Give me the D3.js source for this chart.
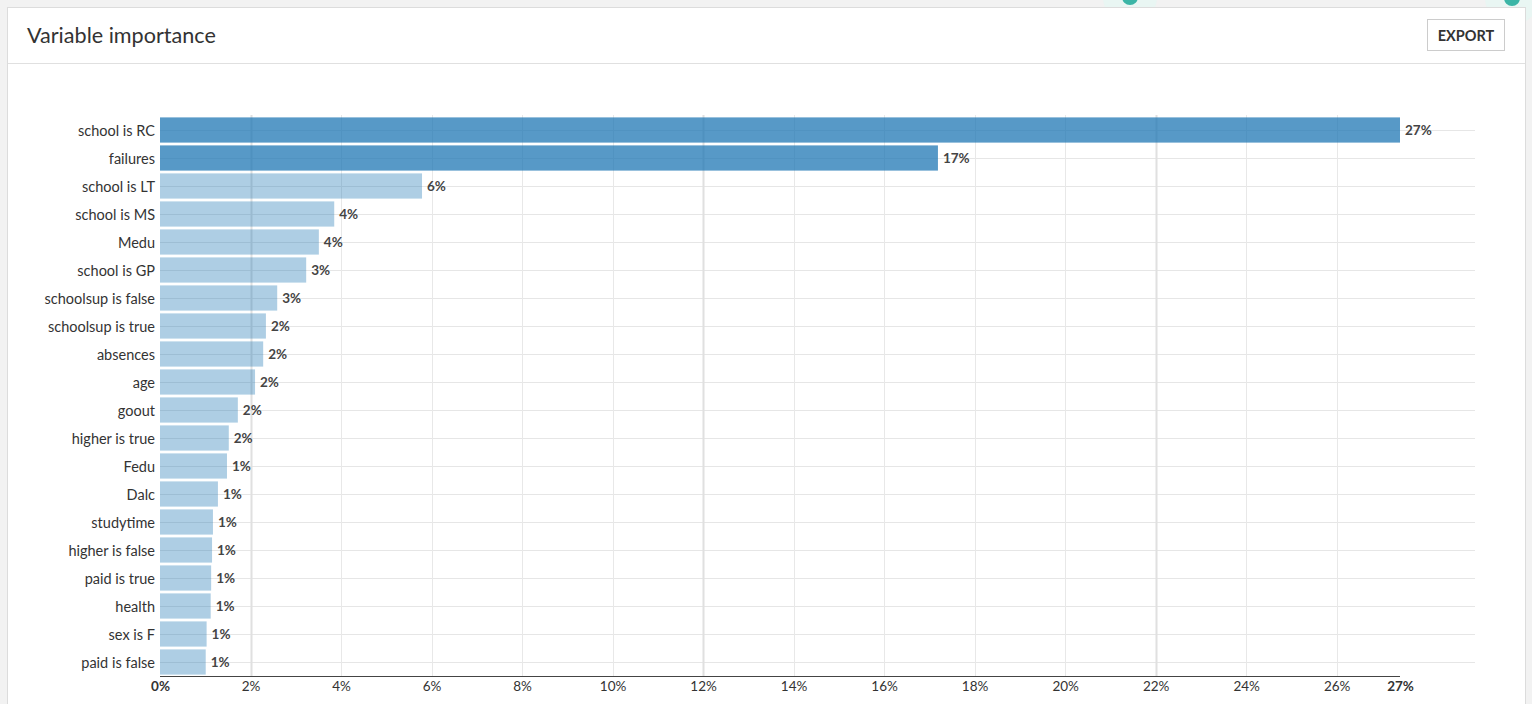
<!DOCTYPE html>
<html>
<head>
<meta charset="utf-8">
<script src="https://cdn.jsdelivr.net/npm/d3@7"></script>
<style>
  html, body { margin: 0; padding: 0; background: #f2f2f2; }
  svg { display: block; font-family: Lato, "Open Sans", sans-serif; }
</style>
</head>
<body>
<svg id="chart"></svg>
<script>
'use strict';
// Data (importance, as fractions)
var features = ['school is RC', 'failures', 'school is LT', 'school is MS', 'Medu',
  'school is GP', 'schoolsup is false', 'schoolsup is true', 'absences', 'age',
  'goout', 'higher is true', 'Fedu', 'Dalc', 'studytime', 'higher is false',
  'paid is true', 'health', 'sex is F', 'paid is false'];
var importance = [0.2740, 0.1719, 0.0579, 0.0385, 0.0351, 0.0323, 0.0259, 0.0234,
  0.0228, 0.0210, 0.0172, 0.0152, 0.0148, 0.0128, 0.0117, 0.0115, 0.0113, 0.0112,
  0.0103, 0.0101];
var xTicks = [0, 0.02, 0.04, 0.06, 0.08, 0.10, 0.12, 0.14, 0.16, 0.18, 0.20, 0.22, 0.24, 0.26];
var strongTicks = [0.02, 0.12, 0.22];
var title = 'Variable importance';

var data = features.map(function(f, i) { return { name: f, value: importance[i] }; });

var canvasWidth = 1532;
var canvasHeight = 704;
var margin = { top: 116, right: 132, bottom: 28, left: 160 };

var svg = d3.select('#chart')
  .attr('width', canvasWidth)
  .attr('height', canvasHeight);

// Decorative UI dots peeking above the card
[[1130, -3], [1512, -2]].forEach(function(p) {
  svg.append('circle').attr('cx', p[0]).attr('cy', p[1]).attr('r', 27).attr('fill', '#e6f6f3').attr('opacity', 0.8);
  svg.append('circle').attr('cx', p[0]).attr('cy', p[1]).attr('r', 8).attr('fill', '#3bb5a6');
});

// Card
svg.append('rect')
  .attr('x', 7.5).attr('y', 7.5)
  .attr('width', 1518).attr('height', 720)
  .attr('fill', '#fff')
  .attr('stroke', '#dcdcdc');
svg.append('line')
  .attr('x1', 8).attr('x2', 1525)
  .attr('y1', 63.5).attr('y2', 63.5)
  .attr('stroke', '#e0e0e0');
svg.append('text')
  .attr('x', 27).attr('y', 43)
  .attr('font-size', 21.6)
  .attr('fill', '#333')
  .text(title);

// Export button
svg.append('rect')
  .attr('x', 1427.5).attr('y', 19.5)
  .attr('width', 77).attr('height', 31)
  .attr('fill', '#fff')
  .attr('stroke', '#cccccc');
svg.append('text')
  .attr('x', 1466).attr('y', 41)
  .attr('text-anchor', 'middle')
  .attr('font-size', 14.5)
  .attr('font-weight', 'bold')
  .attr('fill', '#333')
  .text('EXPORT');

// Scales
var maxVal = d3.max(importance);
var xScale = d3.scaleLinear()
  .domain([0, maxVal])
  .range([margin.left, canvasWidth - margin.right]);
var yScale = d3.scaleBand()
  .domain(features)
  .range([margin.top, canvasHeight - margin.bottom])
  .paddingInner(0.1)
  .paddingOuter(0.05);

var gridTop = margin.top - 1;
var gridBottom = canvasHeight - margin.bottom;
var gridRight = 1475;

// Horizontal gridlines through bar centres
svg.append('g').selectAll('line').data(features)
  .enter().append('line')
  .attr('x1', margin.left).attr('x2', gridRight)
  .attr('y1', function(d) { return Math.round(yScale(d) + yScale.bandwidth() / 2) + 0.5; })
  .attr('y2', function(d) { return Math.round(yScale(d) + yScale.bandwidth() / 2) + 0.5; })
  .attr('stroke', '#e6e6e6');

// Vertical gridlines
svg.append('g').selectAll('line').data(xTicks.slice(1))
  .enter().append('line')
  .attr('x1', function(d) { return Math.round(xScale(d)) + 0.5; })
  .attr('x2', function(d) { return Math.round(xScale(d)) + 0.5; })
  .attr('y1', gridTop).attr('y2', gridBottom)
  .attr('stroke', function(d) { return strongTicks.indexOf(d) >= 0 ? '#e0e0e0' : '#e8e8e8'; })
  .attr('stroke-width', function(d) { return strongTicks.indexOf(d) >= 0 ? 2 : 1; });

// Bars
svg.append('g').selectAll('rect').data(data)
  .enter().append('rect')
  .attr('x', xScale(0))
  .attr('y', function(d) { return yScale(d.name); })
  .attr('width', function(d) { return xScale(d.value) - xScale(0); })
  .attr('height', yScale.bandwidth())
  .attr('fill', '#1f77b4')
  .attr('opacity', function(d) { return d.value > 0.1 ? 0.75 : 0.36; });

// Value labels
var pct = d3.format('.0%');
svg.append('g').selectAll('text').data(data)
  .enter().append('text')
  .attr('x', function(d) { return xScale(d.value) + 5; })
  .attr('y', function(d) { return yScale(d.name) + yScale.bandwidth() / 2; })
  .attr('dy', '0.4em')
  .attr('font-size', 13.5)
  .attr('font-weight', 'bold')
  .attr('fill', '#444')
  .text(function(d) { return pct(d.value); });

// Y axis labels
svg.append('g')
  .attr('transform', 'translate(' + margin.left + ',0)')
  .call(d3.axisLeft(yScale).tickSize(0).tickPadding(5))
  .call(function(g) {
    g.select('.domain').remove();
    g.selectAll('text')
      .attr('dy', '0.4em')
      .attr('font-size', 14.5).attr('fill', '#333').attr('font-family', 'Lato, sans-serif');
  });

// X axis
var axisTicks = xTicks.concat([maxVal]);
svg.append('g')
  .attr('transform', 'translate(0,' + (gridBottom + 0.5) + ')')
  .call(d3.axisBottom(xScale).tickValues(axisTicks).tickFormat(pct).tickSize(0).tickPadding(5))
  .call(function(g) {
    g.select('.domain').attr('stroke', '#444').attr('d', 'M' + xScale(0) + ',0H' + xScale(maxVal));
    g.selectAll('text')
      .attr('font-size', 13.5)
      .attr('fill', '#333')
      .attr('font-family', 'Lato, sans-serif')
      .attr('font-weight', function(d) { return (d === 0 || d === maxVal) ? 'bold' : 'normal'; });
  });
</script>
</body>
</html>
